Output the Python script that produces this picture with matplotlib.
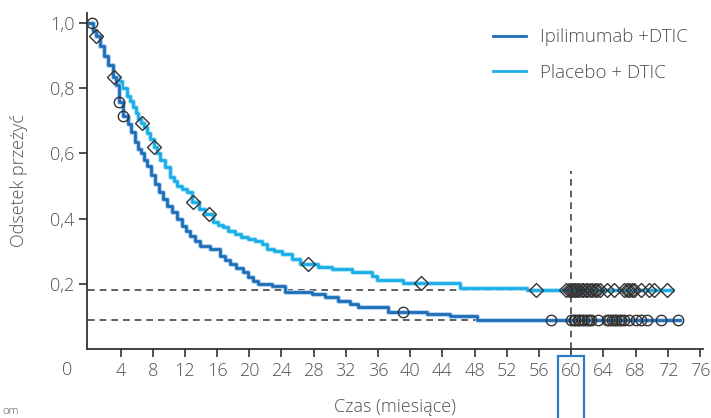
import numpy as np
import matplotlib
matplotlib.use("Agg")
import matplotlib.pyplot as plt
import matplotlib.patheffects as pe
from matplotlib.patches import Rectangle

# ---------------- data ----------------
ipi_t = [0, 0.6, 0.9, 1.5, 2.0, 2.5, 3.07, 3.5, 3.8, 4.3, 4.9, 5.3, 5.8, 6.2, 6.5, 6.9,
         7.29, 7.8, 8.28, 8.8, 9.28, 9.8, 10.4, 11.0, 11.6, 12.1, 12.6, 13.2, 13.9, 15.1,
         16.4, 17.0, 17.6, 18.4, 19.2, 19.8, 20.5, 21.1, 22.8, 24.4, 27.8, 29.4, 31.0,
         32.5, 33.5, 37.2, 42.1, 44.9, 48.3, 73.5]
ipi_s = [1.0, 0.975, 0.96, 0.93, 0.9, 0.87, 0.834, 0.81, 0.758, 0.716, 0.69, 0.665, 0.635,
         0.615, 0.6, 0.58, 0.561, 0.535, 0.506, 0.483, 0.46, 0.44, 0.42, 0.4, 0.377, 0.362,
         0.347, 0.332, 0.316, 0.307, 0.285, 0.273, 0.261, 0.25, 0.236, 0.222, 0.209, 0.199,
         0.193, 0.175, 0.169, 0.16, 0.147, 0.138, 0.129, 0.113, 0.107, 0.101, 0.088, 0.088]

pla_t = [0, 0.6, 0.9, 1.5, 2.0, 2.5, 3.07, 3.69, 4.2, 4.81, 5.2, 5.55, 5.9, 6.17, 6.5, 6.9,
         7.3, 7.66, 8.1, 8.5, 8.9, 9.5, 10.2, 10.6, 11.0, 11.6, 12.3, 12.9, 13.7, 14.5,
         15.5, 16.1, 16.7, 17.4, 18.2, 19.0, 19.8, 20.7, 21.6, 22.2, 23.1, 24.1, 25.3, 26.3,
         28.5, 30.3, 32.8, 35.2, 35.9, 39.1, 46.2, 54.5, 72.5]
pla_s = [1.0, 0.975, 0.96, 0.93, 0.9, 0.87, 0.834, 0.822, 0.8, 0.776, 0.76, 0.742, 0.725,
         0.706, 0.693, 0.68, 0.662, 0.644, 0.62, 0.6, 0.58, 0.558, 0.528, 0.514, 0.5, 0.49,
         0.482, 0.451, 0.43, 0.414, 0.39, 0.382, 0.374, 0.363, 0.353, 0.345, 0.337, 0.33,
         0.322, 0.307, 0.3, 0.291, 0.276, 0.261, 0.252, 0.245, 0.236, 0.224, 0.212, 0.204,
         0.188, 0.182, 0.182]

ipi_cens = [0.5, 3.8, 4.3, 39.1, 57.5, 60.0, 60.3, 60.5, 60.8, 61.0, 61.3, 61.6, 61.9,
            62.2, 62.5, 63.3, 64.4, 64.7, 65.0, 65.3, 65.6, 65.9, 66.2, 66.5, 67.2, 68.0,
            68.6, 69.4, 71.2, 73.2]
pla_cens = [0.96, 3.2, 6.7, 8.2, 13.0, 15.0, 27.3, 41.3, 55.6, 59.4, 59.7, 60.0, 60.2,
            60.5, 60.7, 61.0, 61.3, 61.5, 61.8, 62.0, 62.3, 62.6, 62.9, 63.2, 63.6, 64.4,
            65.3, 66.5, 66.9, 67.2, 67.5, 67.8, 68.6, 69.6, 70.3, 71.9]

ref_levels = [0.182, 0.088]
ref_ends = [72.5, 73.5]
ref_time = 60
ref_vline_top = 0.545

labels = ["Ipilimumab +DTIC", "Placebo + DTIC"]
x_ticks = [4, 8, 12, 16, 20, 24, 28, 32, 36, 40, 44, 48, 52, 56, 60, 64, 68, 72, 76]
y_ticks = [0.2, 0.4, 0.6, 0.8, 1.0]
y_ticklabels = ["0,2", "0,4", "0,6", "0,8", "1,0"]

# ---------------- style ----------------
FONT = "Open Sans"
TXT = "#505050"
DARK = "#1f6db8"
LIGHT = "#17aee8"
plt.rcParams["font.family"] = [FONT, "DejaVu Sans"]
plt.rcParams["font.weight"] = 300
plt.rcParams["axes.labelweight"] = 300

fig = plt.figure(figsize=(7.11, 4.18), dpi=100)
ax = fig.add_axes([0.1224, 0.165, 0.8663, 0.804])
ax.set_xlim(-0.16, 76.36)
ax.set_ylim(0, 1.031)


def km_at(t_arr, s_arr, t):
    i = np.searchsorted(np.asarray(t_arr), t, side="right") - 1
    return np.asarray(s_arr)[i]


# reference dashed lines
for lvl, end in zip(ref_levels, ref_ends):
    ax.plot([0, end], [lvl, lvl], ls=(0, (4, 3)), color="#444444", lw=1.2, zorder=1)
ax.plot([ref_time, ref_time], [0, ref_vline_top], ls=(0, (4, 3)), color="#444444",
        lw=1.2, zorder=1)

halo_d = [pe.Stroke(linewidth=3.4, foreground="#a8cdee"), pe.Normal()]
halo_l = [pe.Stroke(linewidth=3.4, foreground="#a9e0f6"), pe.Normal()]

ax.plot(pla_t, pla_s, drawstyle="steps-post", color=LIGHT, lw=2.0, label=labels[1],
        path_effects=halo_l, zorder=3)
ax.plot(ipi_t, ipi_s, drawstyle="steps-post", color=DARK, lw=2.0, label=labels[0],
        path_effects=halo_d, zorder=3)

ax.plot(pla_cens, [km_at(pla_t, pla_s, t) for t in pla_cens], ls="none", marker="D",
        ms=7.5, mfc="none", mec="#333333", mew=1.0, zorder=4)
ax.plot(ipi_cens, [km_at(ipi_t, ipi_s, t) for t in ipi_cens], ls="none", marker="o",
        ms=7.5, mfc="none", mec="#333333", mew=1.0, zorder=4)

# axes styling
for s in ["top", "right"]:
    ax.spines[s].set_visible(False)
for s in ["left", "bottom"]:
    ax.spines[s].set_color("#333333")
    ax.spines[s].set_linewidth(1.3)

ax.set_xticks(x_ticks)
ax.set_xticklabels([str(v) for v in x_ticks])
ax.set_yticks(y_ticks)
ax.set_yticklabels(y_ticklabels)
ax.tick_params(axis="both", direction="out", length=6, width=1.2, color="#333333",
               labelsize=13, labelcolor=TXT, pad=3)

ax.annotate("0", xy=(0, 0), xycoords="data", xytext=(-21, -21),
            textcoords="offset pixels", ha="center", va="center", fontsize=13, color=TXT)

ax.set_ylabel("Odsetek przeżyć", fontsize=13, color=TXT, labelpad=16)
ax.set_xlabel("Czas (miesiące)", fontsize=13, color=TXT, labelpad=13)

h, l = ax.get_legend_handles_labels()
leg = ax.legend([h[1], h[0]], [l[1], l[0]], loc="upper left",
                bbox_to_anchor=(0.632, 1.005), frameon=False, fontsize=13.5,
                handlelength=1.75, handletextpad=0.75, labelspacing=0.95)
for t in leg.get_texts():
    t.set_color(TXT)
for ln in leg.get_lines():
    ln.set_path_effects([])
    ln.set_linewidth(2.0)

# highlight box around the 60 tick label
fig.add_artist(Rectangle((558 / 711, -0.05), 26 / 711, 0.05 + (418 - 356) / 418,
                         transform=fig.transFigure, fill=False, edgecolor="#2a7cc7",
                         lw=1.6, clip_on=False))

fig.text(0.003, 0.003, "om", fontsize=8, color=TXT, ha="left", va="bottom")

fig.savefig("out.png", dpi=100)
